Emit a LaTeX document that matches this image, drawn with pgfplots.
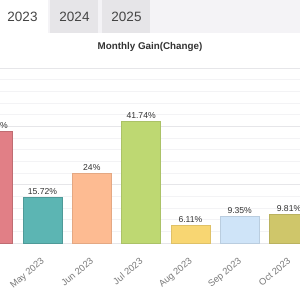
\documentclass[border=0pt]{standalone}
\usepackage{pgfplots}
\pgfplotsset{compat=1.18}
\usepackage{fontspec}
\setmainfont{Liberation Sans}

\definecolor{barApr}{HTML}{E17F86}
\definecolor{barMay}{HTML}{5CB5B3}
\definecolor{barJun}{HTML}{FDBB92}
\definecolor{barJul}{HTML}{BED872}
\definecolor{barAug}{HTML}{F8D672}
\definecolor{barSep}{HTML}{CFE4F8}
\definecolor{barOct}{HTML}{CFC66A}
\definecolor{tabstrip}{HTML}{F4F3F6}
\definecolor{tabgray}{HTML}{E6E5E8}
\definecolor{tabtext}{HTML}{444444}
\definecolor{labeltext}{HTML}{333333}
\definecolor{ticktext}{HTML}{7A7A7A}
\definecolor{gridmajor}{HTML}{E6E6E9}
\definecolor{gridminor}{HTML}{F3F3F5}

\begin{document}
\begin{tikzpicture}[x=1pt,y=1pt]
  \useasboundingbox (0pt,0pt) rectangle (300pt,300pt);
  \clip (0pt,0pt) rectangle (300pt,300pt);
  \fill[white] (0pt,0pt) rectangle (300pt,300pt);

  % year tabs
  \fill[tabstrip] (0pt,267pt) rectangle (300pt,300pt);
  \fill[white] (0pt,267pt) rectangle (48pt,300pt);
  \fill[tabgray] (50pt,267pt) rectangle (98pt,300pt);
  \fill[tabgray] (102pt,267pt) rectangle (150pt,300pt);
  \node[text=tabtext, font=\fontsize{13.5}{15}\selectfont] at (22.5pt,283pt) {2023};
  \node[text=tabtext, font=\fontsize{13.5}{15}\selectfont] at (74.5pt,283pt) {2024};
  \node[text=tabtext, font=\fontsize{13.5}{15}\selectfont] at (126.5pt,283pt) {2025};

  % chart title
  \node[text=labeltext, font=\bfseries\fontsize{9.8}{12}\selectfont] at (150pt,253pt) {Monthly Gain(Change)};

  \begin{axis}[
    at={(0pt,57pt)}, anchor=south west,
    scale only axis, width=300pt, height=175pt,
    xmin=3.138, xmax=9.223,
    ymin=0, ymax=60,
    axis line style={draw=none},
    major tick length=0pt, minor tick length=0pt,
    xtick={3,4,5,6,7,8,9},
    xticklabels={Apr 2023,May 2023,Jun 2023,Jul 2023,Aug 2023,Sep 2023,Oct 2023},
    xticklabel style={xshift=-2pt, yshift=-14pt, rotate=40, anchor=north east, inner sep=0pt,
      text=ticktext, font=\fontsize{9.3}{10}\selectfont},
    ytick={0,20,40,60},
    yticklabels={},
    minor y tick num=4,
    ymajorgrids, yminorgrids,
    major grid style={gridmajor, line width=0.8pt},
    minor grid style={gridminor, line width=0.6pt},
    ybar, bar width=39pt, bar shift=0pt,
    nodes near coords={\pgfmathprintnumber{\pgfplotspointmeta}\%},
    every node near coord/.append style={text=labeltext, font=\fontsize{8.6}{10}\selectfont, yshift=-1pt},
    /pgf/number format/assume math mode=true,
    clip=false,
  ]
    \addplot[fill=barApr, draw=barApr!85!black, line width=0.4pt] coordinates {(3,38.36)};
    \addplot[fill=barMay, draw=barMay!85!black, line width=0.4pt] coordinates {(4,15.72)};
    \addplot[fill=barJun, draw=barJun!90!black, line width=0.4pt] coordinates {(5,24)};
    \addplot[fill=barJul, draw=barJul!90!black, line width=0.4pt] coordinates {(6,41.74)};
    \addplot[fill=barAug, draw=barAug!90!black, line width=0.4pt] coordinates {(7,6.11)};
    \addplot[fill=barSep, draw=barSep!90!black, line width=0.4pt] coordinates {(8,9.35)};
    \addplot[fill=barOct, draw=barOct!90!black, line width=0.4pt] coordinates {(9,9.81)};
  \end{axis}
\end{tikzpicture}
\end{document}
